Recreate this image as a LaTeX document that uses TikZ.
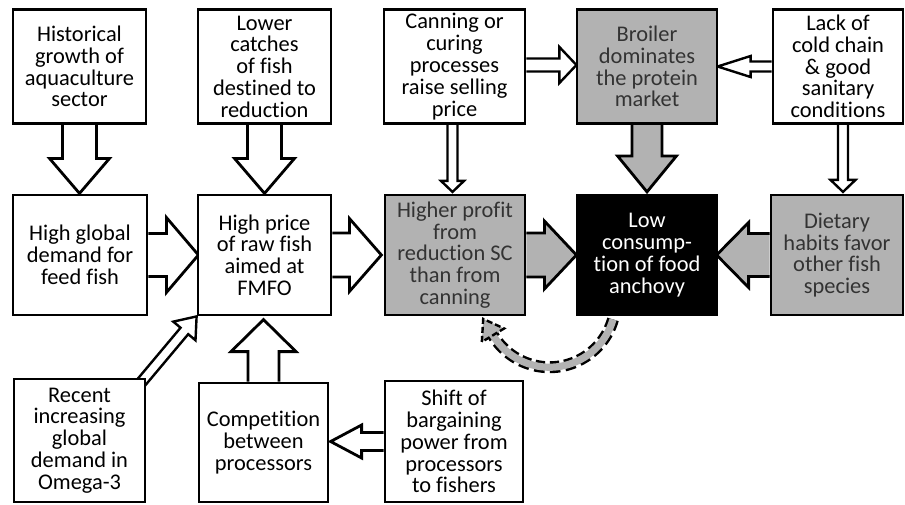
\documentclass[tikz,border=0pt]{standalone}
\usepackage{fontspec}
\newfontfamily\boxfont{Carlito}[Ligatures=NoCommon]
\usetikzlibrary{calc, backgrounds}
\tikzset{
  box/.style={
    % The shape:
    rectangle,
    % The border:
    draw=black,
    line width=1.4pt,
    % The filling:
    fill=white,
    % Font
    font={\boxfont\fontsize{11.2pt}{10.9pt}\selectfont},
    align=center,
    % padding around text
    inner sep=0pt,
  },
  graybox/.style={box, fill=black!30, text=black!80},
  darkbox/.style={box, fill=black, text=white},
  % block arrow from the origin along x: length / half shaft / half head / head length
  pics/barrow/.style args={#1/#2/#3/#4}{
    code={
      \path [pic actions] (0, #2) -- (#1-#4, #2) -- (#1-#4, #3) -- (#1, 0)
        -- (#1-#4, -#3) -- (#1-#4, -#2) -- (0, -#2);
    }
  },
  blockarrow/.style={draw=black, line width=1.4pt, fill=white, line join=miter},
  grayarrow/.style={blockarrow, fill=black!30},
  thinarrow/.style={blockarrow, line width=1.2pt},
}

\begin{document}
\begin{tikzpicture}[x=0.5pt, y=0.5pt]

  \useasboundingbox (0, 0) rectangle (905, -504);

  % top row
  \node at (79.5, -66.5) (hist) [box, minimum width=66.5pt, minimum height=57pt] {Historical\\growth of\\aquaculture\\sector};
  \node at (264.5, -66.5) (lower) [box, minimum width=66.5pt, minimum height=57pt] {Lower\\catches\\of fish\\destined to\\reduction};
  \node at (454.5, -66.5) (canning) [box, minimum width=70.5pt, minimum height=57pt] {Canning or\\curing\\processes\\raise selling\\price};
  \node at (647, -66.5) (broiler) [graybox, minimum width=70pt, minimum height=57pt] {Broiler\\dominates\\the protein\\market};
  \node at (838, -66.5) (lack) [box, minimum width=65pt, minimum height=57pt] {Lack of\\cold chain\\\& good\\sanitary\\conditions};

  % middle row
  \node at (80, -255) (global) [box, minimum width=67pt, minimum height=60pt] {High global\\demand for\\feed fish};
  \node at (264.5, -255) (price) [box, minimum width=66.5pt, minimum height=60pt] {High price\\of raw fish\\aimed at\\FMFO};
  \node at (455, -255) (profit) [graybox, minimum width=70pt, minimum height=60pt] {Higher profit\\from\\reduction SC\\than from\\canning};
  \node at (647, -255) (low) [darkbox, minimum width=70pt, minimum height=60pt] {Low\\consump-\\tion of food\\anchovy};
  \node at (837, -255) (dietary) [graybox, minimum width=66pt, minimum height=60pt] {Dietary\\habits favor\\other fish\\species};

  % bottom row
  \node at (79.5, -440.5) (recent) [box, minimum width=65.5pt, minimum height=61.5pt] {Recent\\increasing\\global\\demand in\\Omega-3};
  \node at (263.5, -442.5) (comp) [box, minimum width=64.5pt, minimum height=59.5pt] {Competition\\between\\processors};
  \node at (454, -441.5) (shift) [box, minimum width=69pt, minimum height=60.5pt] {Shift of\\bargaining\\power from\\processors\\to fishers};

  \begin{scope}[on background layer]
    % big arrows
    \pic [blockarrow, rotate=-90] at (hist.south) {barrow={68.5/17/30/35}};
    \pic [blockarrow, rotate=-90] at (lower.south) {barrow={68.5/17/30/35}};
    \pic [grayarrow, rotate=-90] at (broiler.south) {barrow={67/15/29.5/36}};
    \pic [blockarrow] at (global.east) {barrow={50/21.5/37.5/32}};
    \pic [blockarrow] at (price.east) {barrow={49/22/36.5/32}};
    \pic [grayarrow] at (profit.east) {barrow={50/22/34/32}};
    \pic [grayarrow, rotate=180] at (dietary.west) {barrow={53/21.5/32.5/32}};
    \pic [blockarrow, rotate=90] at (comp.north) {barrow={62/15.5/32.5/32}};
    \pic [blockarrow, rotate=180] at (shift.west) {barrow={53/9/16.5/31}};

    % thin arrows
    \pic [thinarrow, rotate=-90] at ($(canning.south) + (-2, 0)$) {barrow={67/5/11.5/11}};
    \pic [thinarrow] at ($(canning.east) + (0, 1.5)$) {barrow={50/6.5/18/17}};
    \pic [thinarrow, rotate=180] at (lack.west) {barrow={54/5/10.5/33}};
    \pic [thinarrow, rotate=-90] at ($(lack.south) + (5, 0)$) {barrow={67/5/12.5/12}};
    \pic [thinarrow, rotate=50] at ($(price.south west) + (230:92)$) {barrow={92/5/14.5/19}};
  \end{scope}

  % feedback loop
  \draw [draw=black!30, line width=3.6pt, preaction={draw=black, line width=6pt, dash pattern=on 5pt off 2.5pt}]
    ($(low.south) + (-34, -3)$) arc [start angle=-16, end angle=-149, radius=66] coordinate (loop end);
  \filldraw [fill=black!30, draw=black, line width=1.2pt, dash pattern=on 3pt off 1.5pt, shift={(loop end)}, rotate=121]
    (0, 13) -- (19, 0) -- (0, -13) -- cycle;

\end{tikzpicture}
\end{document}
